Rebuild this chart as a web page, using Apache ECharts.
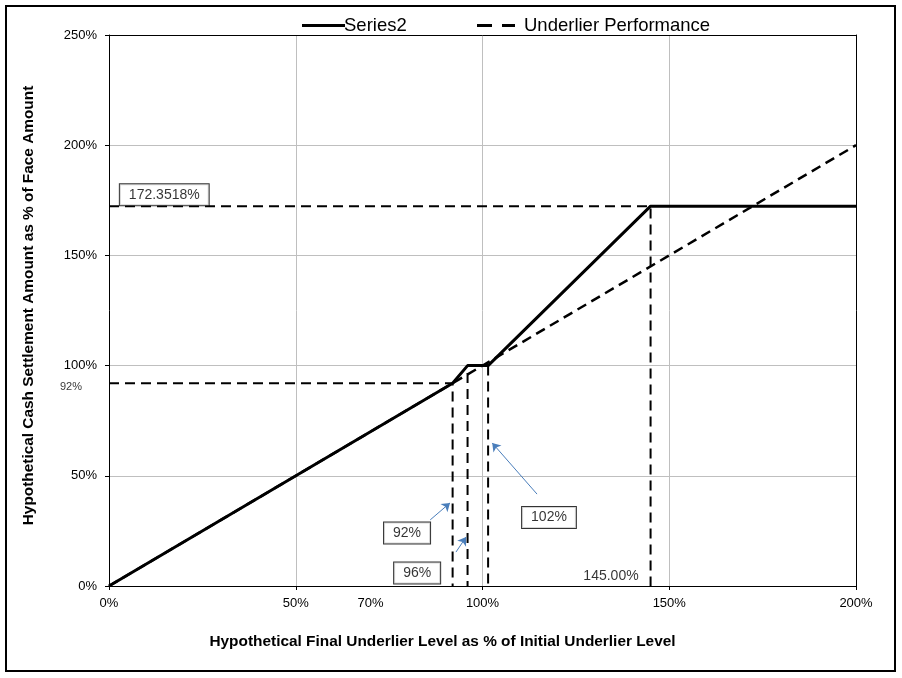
<!DOCTYPE html>
<html><head><meta charset="utf-8">
<script src="https://cdn.jsdelivr.net/npm/echarts@6/dist/echarts.min.js"></script>
<style>html,body{margin:0;padding:0;background:#fff}#c{width:902px;height:678px}
#frame{position:absolute;left:5px;top:5px;width:887px;height:663px;border:2px solid #000;pointer-events:none}</style>
</head><body><div id="c"></div><div id="frame"></div>
<script>
// ---- data ----
const xTickLabels = [0, 50, 70, 100, 150, 200];
const series2 = [[0, 0], [92, 92], [96, 100], [101.5, 100], [145, 172.3518], [200, 172.3518]];
const underlier = [[0, 0], [200, 200]];
const capRefH = [[0, 172.3518], [145, 172.3518], [145, 0]];
const ref92 = [[0, 92], [92, 92], [92, 0]];
const ref96 = [[96, 96.6], [96, 0]];
const ref102 = [[101.5, 100], [101.5, 0]];
const boxLabels = [
  { text: '172.3518%', at: [14.8, 177.5] },
  { text: '92%', at: [79.8, 24] },
  { text: '96%', at: [82.5, 5.9] },
  { text: '102%', at: [117.8, 31.1] }
];
const plainLabels = [
  { text: '145.00%', at: [134.4, 4.4], size: 14 },
  { text: '92%', at: [-10.2, 90.3], size: 11 }
];
const arrows = [
  [[86, 30], [91.3, 37.7]],
  [[92.9, 15.4], [95.6, 22.2]],
  [[114.6, 41.7], [102.6, 64.9]]
];

const font = 'Liberation Sans, Arial, sans-serif';
const chart = echarts.init(document.getElementById('c'), null, { renderer: 'canvas' });
const dashed = { color: '#000', width: 2, type: [10, 6] };
function refSeries(data) {
  return { type: 'line', data, symbol: 'none', silent: true, lineStyle: dashed, z: 3, clip: false };
}
const legendText = { fontSize: 18.5, color: '#000', fontFamily: font };
chart.setOption({
  backgroundColor: '#fff',
  animation: false,
  textStyle: { fontFamily: font, color: '#000' },
  legend: [{
    data: [{ name: 'Series2', icon: 'path://M0,0H43V3H0Z' }],
    top: 11, left: 297, itemWidth: 43, itemHeight: 3,
    itemStyle: { color: '#000' }, lineStyle: { width: 0 },
    textStyle: Object.assign({ padding: [0, 0, 0, -6] }, legendText)
  }, {
    data: [{ name: 'Underlier Performance', icon: 'path://M0,0H15V3H0Z M25,0H38V3H25Z' }],
    top: 11, left: 472, itemWidth: 38, itemHeight: 3,
    itemStyle: { color: '#000' }, lineStyle: { width: 0 },
    textStyle: Object.assign({ padding: [0, 0, 0, 4] }, legendText)
  }],
  grid: { left: 109, right: 46, top: 35, bottom: 92 },
  xAxis: [{
    type: 'value', min: 0, max: 200, interval: 50,
    name: 'Hypothetical Final Underlier Level as % of Initial Underlier Level',
    nameLocation: 'middle', nameGap: 48,
    nameTextStyle: { fontSize: 15.4, fontWeight: 'bold', color: '#000', fontFamily: font, padding: [0, 80, 0, 0] },
    axisLine: { lineStyle: { color: '#000', width: 1 } },
    axisTick: { show: true, length: 4, lineStyle: { color: '#000' } },
    axisLabel: { fontSize: 13, color: '#000', margin: 11,
      formatter: v => xTickLabels.includes(v) ? v + '%' : '' },
    splitLine: { lineStyle: { color: '#bfbfbf', width: 1 } }
  }, {
    type: 'value', min: 0, max: 200, interval: 10, position: 'bottom',
    axisLine: { show: false }, axisTick: { show: false }, splitLine: { show: false },
    axisLabel: { fontSize: 13, color: '#000', margin: 11,
      formatter: v => (xTickLabels.includes(v) && v % 50 !== 0) ? v + '%' : '' }
  }, {
    type: 'value', min: 0, max: 200, position: 'top',
    axisLine: { show: true, onZero: false, lineStyle: { color: '#000', width: 1 } },
    axisTick: { show: false }, axisLabel: { show: false }, splitLine: { show: false }
  }],
  yAxis: [{
    type: 'value', min: 0, max: 250, interval: 50,
    name: 'Hypothetical Cash Settlement Amount as % of Face Amount',
    nameLocation: 'middle', nameGap: 73,
    nameTextStyle: { fontSize: 15.4, fontWeight: 'bold', color: '#000', fontFamily: font, padding: [0, 0, 0, 10] },
    axisLine: { lineStyle: { color: '#000', width: 1 } },
    axisTick: { show: true, length: 4, lineStyle: { color: '#000' } },
    axisLabel: { fontSize: 13, color: '#000', margin: 12, formatter: v => v + '%' },
    splitLine: { lineStyle: { color: '#bfbfbf', width: 1 } }
  }, {
    type: 'value', min: 0, max: 250, position: 'right',
    axisLine: { show: true, onZero: false, lineStyle: { color: '#000', width: 1 } },
    axisTick: { show: false }, axisLabel: { show: false }, splitLine: { show: false }
  }],
  series: [
    refSeries(capRefH), refSeries(ref92), refSeries(ref96), refSeries(ref102),
    { name: 'Underlier Performance', type: 'line', data: underlier, symbol: 'none',
      lineStyle: { color: '#000', width: 2.5, type: [10, 6] }, itemStyle: { color: '#000' }, z: 4 },
    { name: 'Series2', type: 'line', data: series2, symbol: 'none',
      lineStyle: { color: '#000', width: 3 }, itemStyle: { color: '#000' }, z: 5,
      markLine: {
        silent: true, symbol: ['none', 'arrow'], symbolSize: 8,
        lineStyle: { color: '#4a7ebb', width: 1, type: 'solid' }, label: { show: false },
        data: arrows.map(a => [{ coord: a[0] }, { coord: a[1] }])
      } },
    { type: 'scatter', silent: true, clip: false, symbolSize: 0, z: 6,
      data: boxLabels.map(b => ({ value: b.at, label: { formatter: b.text } })),
      label: { show: true, position: 'inside', fontSize: 14, color: '#000', fontFamily: font,
        backgroundColor: '#fff', borderColor: '#000', borderWidth: 1, padding: [4, 9, 3, 9] } },
    { type: 'scatter', silent: true, clip: false, symbolSize: 0, z: 6,
      data: plainLabels.map(b => ({ value: b.at, label: { formatter: b.text, fontSize: b.size } })),
      label: { show: true, position: 'inside', color: '#000', fontFamily: font } }
  ]
});
</script></body></html>
